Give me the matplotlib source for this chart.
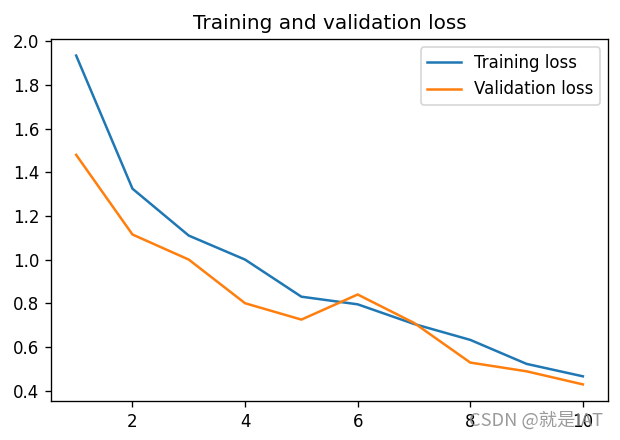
import matplotlib
matplotlib.use("Agg")
import matplotlib.pyplot as plt

epochs = [1, 2, 3, 4, 5, 6, 7, 8, 9, 10]
train_loss = [1.935, 1.325, 1.11, 1.0, 0.83, 0.795, 0.705, 0.632, 0.522, 0.465]
val_loss = [1.48, 1.115, 1.0, 0.80, 0.725, 0.84, 0.71, 0.528, 0.488, 0.428]

DPI = 120
fig = plt.figure(figsize=(620 / DPI, 440 / DPI), dpi=DPI)
ax = fig.add_axes([0.082, 0.089, 0.899, 0.822])
ax.plot(epochs, train_loss, label="Training loss")
ax.plot(epochs, val_loss, label="Validation loss")
ax.set_title("Training and validation loss")
ax.legend(loc="upper right")
fig.text(0.973, 0.045, "CSDN @就是IAT", ha="right", va="center", fontsize=11,
         color="#888888", alpha=0.85, family=["Noto Sans CJK SC", "DejaVu Sans"])
fig.savefig("out.png", dpi=DPI)
